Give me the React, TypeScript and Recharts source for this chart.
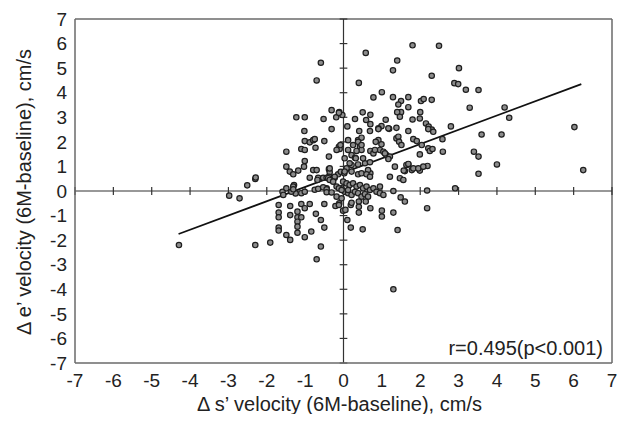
import React from 'react';
import {
  ScatterChart,
  Scatter,
  XAxis,
  YAxis,
  ReferenceLine,
  Customized,
} from 'recharts';

// Tick labels (both axes run from -7 to 7)
const axisTicks = [-7, -6, -5, -4, -3, -2, -1, 0, 1, 2, 3, 4, 5, 6, 7];

// Δ s' velocity (x), Δ e' velocity (y) pairs, cm/s
const upperPoints: [number, number][] = [
  [1.80, 5.93], [2.49, 5.91], [0.58, 5.62], [-0.59, 5.22], [1.40, 5.31],
  [1.29, 4.91], [3.01, 5.00], [-0.70, 4.50], [0.40, 4.40], [2.30, 4.69],
  [2.89, 4.39], [2.99, 4.35], [3.19, 4.12], [3.52, 4.11], [0.78, 3.81],
  [1.00, 4.02], [1.29, 3.82], [1.69, 3.82], [1.50, 3.66], [1.43, 3.52],
  [2.02, 3.66], [2.09, 3.74], [2.30, 3.71], [3.29, 3.39], [4.20, 3.40],
  [4.32, 2.98], [6.02, 2.60], [1.69, 3.41], [1.50, 3.21], [1.40, 3.21],
  [-0.31, 3.29], [-0.19, 3.00], [-0.11, 3.21], [-0.03, 3.09], [-1.01, 3.00],
  [-1.23, 3.00], [-0.52, 2.93], [0.50, 3.20], [0.70, 3.10], [0.30, 2.93],
  [0.59, 2.89], [0.10, 2.63], [1.10, 2.90], [2.00, 3.21], [1.99, 2.95],
  [2.15, 2.75], [2.22, 2.62], [2.30, 2.50], [2.80, 2.63], [-0.12, 3.18],
  [0.70, 2.72], [0.99, 2.64], [0.91, 2.55], [1.19, 2.53], [1.80, 2.91],
  [1.47, 3.02],
];

const middlePoints: [number, number][] = [
  [3.60, 2.30], [4.12, 2.30], [2.58, 2.11], [3.40, 1.60], [3.52, 1.40],
  [3.52, 0.70], [4.00, 1.08], [2.59, 1.60], [2.19, 1.02], [1.99, 0.83],
  [6.25, 0.85],
  [-1.02, 2.44], [-0.31, 2.52], [-1.49, 1.60], [-1.01, 2.03], [-0.88, 1.98],
  [-0.79, 2.07], [-0.75, 2.11], [-0.50, 2.03], [-1.10, 1.71], [-1.01, 1.67],
  [-0.73, 1.76], [-0.12, 1.80], [-0.10, 1.71], [-0.38, 1.40], [0.03, 1.33],
  [-1.01, 1.22], [-1.49, 0.99], [-1.03, 0.99], [-1.40, 0.79], [-1.31, 0.68],
  [-1.18, 0.83], [-0.79, 0.85], [-0.70, 0.85], [-0.38, 0.89], [-0.36, 0.76],
  [-0.38, 0.58], [-0.14, 0.68], [-0.07, 0.78], [0.02, 0.72], [-0.88, 0.54],
  [-0.66, 0.54], [-0.53, 0.54], [-0.44, 0.54], [-0.23, 0.54],
  [-2.30, 0.49], [-2.51, 0.23], [-2.29, 0.55], [-0.68, 0.45],
  [0.41, 2.44], [0.69, 2.44], [0.91, 2.52], [1.17, 2.55], [1.38, 2.57],
  [1.69, 2.44], [2.21, 2.52], [2.34, 2.41], [0.38, 2.07], [0.47, 2.17],
  [0.43, 1.80], [0.47, 1.67], [0.12, 2.07], [0.25, 1.87], [0.91, 2.07],
  [0.99, 1.90], [0.95, 1.67], [1.04, 1.60], [1.12, 1.46], [0.70, 1.63],
  [0.78, 1.53], [1.38, 2.14], [1.43, 2.21], [1.45, 2.00], [1.82, 2.11],
  [1.91, 2.03], [2.21, 1.74], [2.25, 1.63], [2.32, 1.71], [1.99, 1.49],
  [0.12, 1.67], [0.21, 1.46], [0.30, 1.35], [0.21, 1.06], [0.38, 1.08],
  [0.56, 1.13], [0.69, 1.17], [0.64, 0.81], [0.70, 0.72], [1.34, 0.99],
  [1.21, 0.58], [1.69, 1.08], [1.60, 0.81], [1.78, 0.85], [1.47, 0.52],
  [1.56, 0.45], [-0.08, 1.87], [-0.18, 1.67], [0.38, 2.00], [0.47, 1.87],
  [0.34, 1.63], [0.84, 2.00], [0.82, 1.67], [1.08, 1.53], [1.21, 1.40],
  [1.17, 1.30], [1.51, 1.87], [2.04, 1.87], [0.32, 1.33], [0.51, 1.33],
  [0.16, 1.13], [0.08, 0.92], [0.03, 0.79], [-0.36, 0.92], [-0.23, 0.58],
  [0.21, 0.79], [0.38, 0.68], [0.47, 0.72], [0.64, 0.85], [0.60, 0.68],
  [0.69, 0.58], [1.64, 1.06], [1.82, 0.92], [1.95, 0.92], [2.08, 0.99],
  [-0.40, 0.52], [-0.36, 0.45], [-0.27, 0.38], [1.69, 1.10], [1.57, 0.83],
];

const nearZeroPoints: [number, number][] = [
  [2.91, 0.11], [2.18, 0.02], [0.95, 0.18], [1.30, 0.00],
  [-0.44, 0.11], [-0.01, 0.38], [0.08, 0.31], [0.16, 0.24], [0.25, 0.31],
  [0.34, 0.18], [0.43, 0.24], [0.51, 0.11], [0.60, 0.18], [0.69, 0.04],
  [0.78, 0.11], [0.86, -0.03], [0.95, -0.09], [1.04, -0.16], [-0.05, 0.11],
  [0.03, -0.03], [0.12, -0.09], [0.21, -0.16], [0.30, -0.03], [0.38, -0.09],
  [0.47, -0.23], [0.56, -0.13], [0.64, -0.23],
  [-1.59, -0.03], [-1.49, 0.11], [-1.29, 0.24], [-1.25, -0.10], [-1.31, 0.18],
  [-1.57, -0.16], [-1.36, -0.03], [-1.31, 0.07], [-1.10, -0.09], [-1.01, -0.03],
  [-0.75, 0.05], [-0.66, 0.09], [-0.53, 0.15], [-0.44, 0.07], [-0.44, -0.05],
  [-0.31, -0.06], [-0.18, 0.18], [-0.12, 0.11], [-0.05, 0.04], [0.12, 0.04],
  [-0.18, -0.23], [-0.05, -0.30], [1.49, -0.26],
];

const lowerPoints: [number, number][] = [
  [-2.98, -0.19], [-2.71, -0.30], [-4.29, -2.20], [-2.30, -2.20], [-1.91, -2.10],
  [-1.69, -0.57], [-1.69, -0.88], [-1.69, -1.07], [-1.69, -1.49], [-1.69, -1.61],
  [-1.39, -0.61], [-1.39, -0.98], [-1.49, -1.79], [-1.39, -1.99],
  [-1.20, -0.84], [-1.20, -1.07], [-1.20, -1.25], [-1.20, -1.45], [-1.20, -1.70],
  [-1.10, -0.53], [-1.01, -0.70], [-0.88, -0.53], [-1.10, -1.07],
  [-0.84, -1.65], [-1.01, -1.88], [-0.70, -2.78], [-0.59, -2.26],
  [-0.72, -0.93], [-0.59, -1.18], [-0.50, -1.49], [-0.50, -0.53], [-0.21, -0.61],
  [-0.11, -0.50], [-0.01, -0.80], [0.05, -0.77], [-0.12, -0.57],
  [0.19, -0.57], [0.21, -0.48], [0.40, -0.43], [0.40, -0.64], [0.40, -0.88],
  [0.58, -0.43], [0.70, -0.70], [1.00, -0.80], [1.00, -1.04], [1.30, -0.88],
  [2.18, -0.70], [1.41, -1.59], [1.30, -4.00], [0.19, -1.49], [0.50, -1.56],
  [0.10, -1.18], [1.60, -0.43],
];

// Regression line endpoints
const fitStart = { x: -4.3, y: -1.75 };
const fitEnd = { x: 6.2, y: 4.35 };

const allPoints = [...upperPoints, ...middlePoints, ...nearZeroPoints, ...lowerPoints].map(
  ([x, y]) => ({ x, y })
);

const FONT = '"Liberation Sans", Arial, Helvetica, sans-serif';
const TEXT = '#222';

const Dot = (p: any) => (
  <circle cx={p.cx} cy={p.cy} r={2.7} fill="#8c8c8c" stroke="#1e1e1e" strokeWidth={1.2} />
);

const XTitle = (props: any) => {
  const vb = props.viewBox || { x: 67, y: 355, width: 537, height: 51 };
  return (
    <text
      x={vb.x + vb.width / 2 - 4}
      y={vb.y + vb.height - 3}
      textAnchor="middle"
      fontSize={20}
      fontFamily={FONT}
      fill={TEXT}
    >
      Δ s’ velocity (6M-baseline), cm/s
    </text>
  );
};

const YTitle = (props: any) => {
  const vb = props.viewBox || { x: 0, y: 11, width: 67, height: 344 };
  const cx = vb.x + 16;
  const cy = vb.y + vb.height / 2 + 1;
  return (
    <text
      x={cx}
      y={cy}
      transform={`rotate(-90 ${cx} ${cy})`}
      textAnchor="middle"
      dominantBaseline="central"
      fontSize={20}
      fontFamily={FONT}
      fill={TEXT}
    >
      Δ e’ velocity (6M-baseline), cm/s
    </text>
  );
};

const RText = () => (
  <text x={595} y={347} textAnchor="end" fontSize={20} fontFamily={FONT} fill={TEXT}>
    r=0.495(p&lt;0.001)
  </text>
);

export default function App() {
  const nonZero = axisTicks.filter((t) => t !== 0);
  return (
    <div style={{ width: 611, height: 406, background: '#fff' }}>
      <ScatterChart
        width={611}
        height={406}
        margin={{ top: 11, right: 7, bottom: 0, left: 0 }}
      >
        <XAxis
          type="number"
          dataKey="x"
          domain={[-7, 7]}
          ticks={axisTicks}
          interval={0}
          allowDataOverflow
          height={51}
          tickLine={false}
          tickMargin={5}
          axisLine={{ stroke: '#6a6a6a', strokeWidth: 1.5 }}
          tick={{ fontSize: 19, fontFamily: FONT, fill: TEXT }}
          label={<XTitle />}
        />
        <YAxis
          type="number"
          dataKey="y"
          domain={[-7, 7]}
          ticks={axisTicks}
          interval={0}
          allowDataOverflow
          width={67}
          tickLine={false}
          axisLine={{ stroke: '#6a6a6a', strokeWidth: 1.5 }}
          tick={{ fontSize: 19, fontFamily: FONT, fill: TEXT }}
          label={<YTitle />}
        />
        <ReferenceLine x={7} stroke="#6a6a6a" strokeWidth={1.5} ifOverflow="visible" />
        <ReferenceLine y={7} stroke="#6a6a6a" strokeWidth={1.5} ifOverflow="visible" />
        <ReferenceLine x={0} stroke="#333" strokeWidth={1.2} />
        <ReferenceLine y={0} stroke="#333" strokeWidth={1.2} />
        {nonZero.map((t) => (
          <ReferenceLine
            key={`xt${t}`}
            segment={[{ x: t, y: -0.16 }, { x: t, y: 0.16 }]}
            stroke="#333"
            strokeWidth={1.2}
            ifOverflow="visible"
          />
        ))}
        {nonZero.map((t) => (
          <ReferenceLine
            key={`yt${t}`}
            segment={[{ x: -0.1, y: t }, { x: 0.1, y: t }]}
            stroke="#333"
            strokeWidth={1.2}
            ifOverflow="visible"
          />
        ))}
        <ReferenceLine
          segment={[fitStart, fitEnd]}
          stroke="#111"
          strokeWidth={1.8}
          ifOverflow="visible"
        />
        <Scatter data={allPoints} shape={<Dot />} isAnimationActive={false} />
        <Customized component={<RText />} />
      </ScatterChart>
    </div>
  );
}
